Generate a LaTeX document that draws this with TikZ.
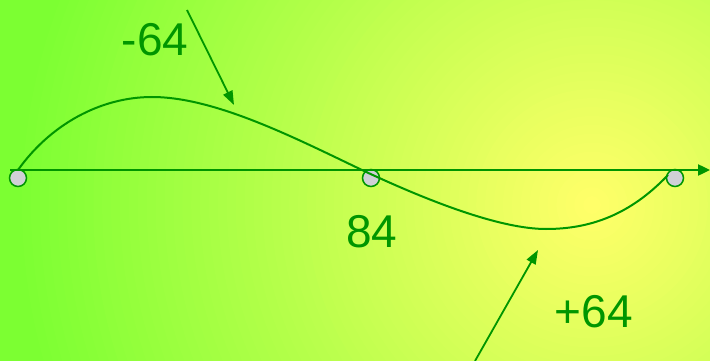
\documentclass[tikz,border=0pt]{standalone}
\usepackage{fontspec}
\setmainfont{Liberation Sans}
\usepackage{tikz}
\usetikzlibrary{arrows.meta}
\definecolor{wavegreen}{RGB}{0,150,0}
\definecolor{bggreen}{RGB}{124,255,50}
\definecolor{bgyellow}{RGB}{255,255,105}
\definecolor{dotgray}{RGB}{208,208,214}
\tikzset{
  axis/.style={draw=wavegreen, line width=2.4pt, -{Triangle[length=12pt, width=11pt]}},
  wave/.style={draw=wavegreen, line width=2pt},
  pointer/.style={draw=wavegreen, line width=1.8pt, -{Triangle[length=14pt, width=10pt]}},
  dot/.style={circle, draw=wavegreen, line width=1.5pt, fill=dotgray, minimum size=17pt, inner sep=0pt},
  value/.style={text=wavegreen, font=\fontsize{46}{50}\selectfont, inner sep=0pt}
}
\begin{document}
\begin{tikzpicture}[x=1pt, y=-1pt]
  \useasboundingbox (0,0) rectangle (710,361);

  % --- Fondo ---
  \begin{scope}
    \clip (0,0) rectangle (710,361);
    \fill[bggreen] (0,0) rectangle (710,361);
    \foreach \i in {1,...,64} {
      \pgfmathsetmacro\rad{570*(1-(\i-1)/64)}
      \pgfmathsetmacro\mix{100*\i/64}
      \fill[bgyellow!\mix!bggreen] (592,205) circle (\rad pt);
    }
  \end{scope}

  % --- Puntos sobre el eje ---
  \node (p0) [dot] at (18,178) {};
  \node (p1) [dot] at (371,178) {};
  \node (p2) [dot] at (675,178) {};

  % --- Eje ---
  \coordinate (axl) at (10,170);
  \coordinate (axr) at (710,170);
  \draw [axis] (axl) -- (axr);

  % --- Onda ---
  \coordinate (start) at (18,170);
  \coordinate (peak) at (152,97);
  \coordinate (cross) at (362,170);
  \coordinate (trough) at (546,229);
  \coordinate (stop) at (668,175);
  \draw [wave] (start) .. controls (50,125) and (100,97) .. (peak)
    .. controls (215,97) and (295,138) .. (cross)
    .. controls (428,201) and (500,229) .. (trough)
    .. controls (590,229) and (630,215) .. (stop);

  % --- Valores ---
  \node (minus) [value] at (155,40) {-64};
  \node (mid) [value] at (372,232) {84};
  \node (plus) [value] at (594,312) {+64};

  % --- Flechas ---
  \coordinate (a1) at (187,10);
  \coordinate (a1tip) at (234,105);
  \coordinate (a2) at (475,361);
  \coordinate (a2tip) at (538,250);
  \draw [pointer] (a1) -- (a1tip);
  \draw [pointer] (a2) -- (a2tip);

\end{tikzpicture}
\end{document}
